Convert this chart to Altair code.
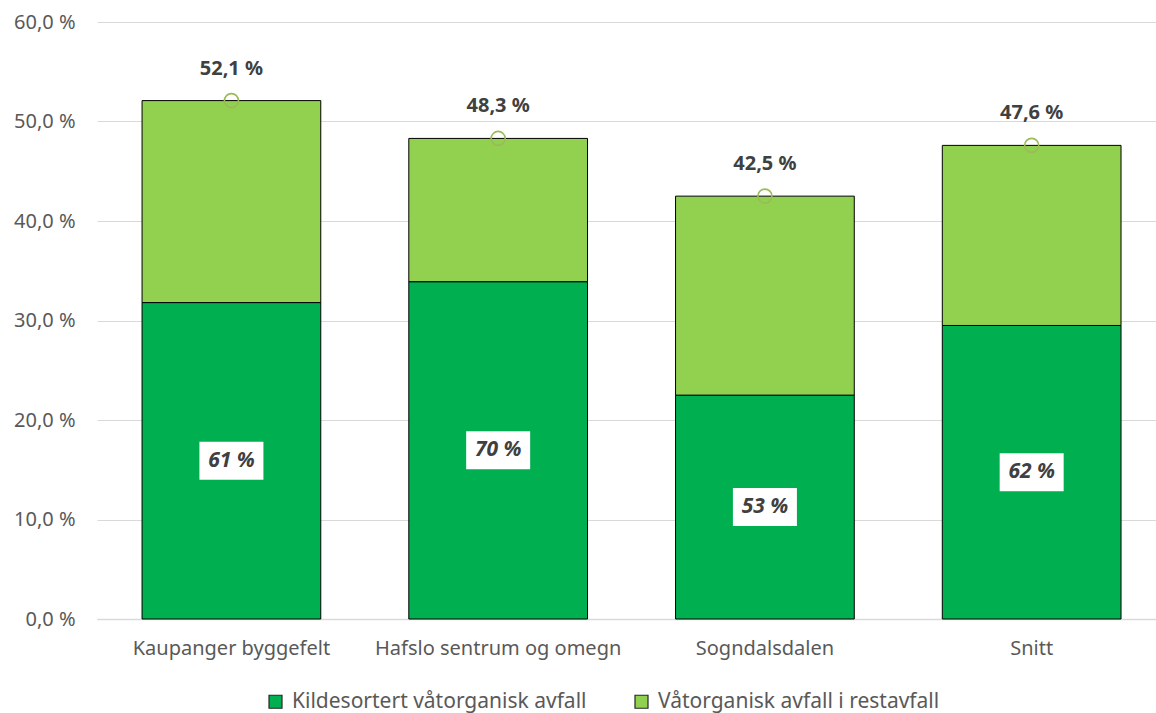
import altair as alt
import pandas as pd

categories = ["Kaupanger byggefelt", "Hafslo sentrum og omegn", "Sogndalsdalen", "Snitt"]
series_names = ["Kildesortert våtorganisk avfall", "Våtorganisk avfall i restavfall"]
kildesortert = [31.8, 33.9, 22.5, 29.5]
restavfall = [20.3, 14.4, 20.0, 18.1]
totals = [52.1, 48.3, 42.5, 47.6]
andel = [61, 70, 53, 62]
y_ticks = [0, 10, 20, 30, 40, 50, 60]

FONT = "Noto Sans"
DARK = "#00B050"
LIGHT = "#92D050"

rows = []
for i, c in enumerate(categories):
    rows.append({"cat": c, "series": series_names[0], "value": kildesortert[i], "ord": 0})
    rows.append({"cat": c, "series": series_names[1], "value": restavfall[i], "ord": 1})
long_df = pd.DataFrame(rows)

info_df = pd.DataFrame({
    "cat": categories,
    "kilde": kildesortert,
    "total": totals,
    "andel": andel,
})

xaxis = alt.Axis(
    title=None, labelAngle=0, labelFontSize=20, labelFont=FONT, labelColor="#595959",
    ticks=False, domainColor="#D9D9D9", domainWidth=1.5, labelPadding=19, labelLimit=0,
)
xscale = alt.Scale(paddingInner=0.33, paddingOuter=0.15, align=0.563)
xenc = alt.X("cat:N", sort=categories, scale=xscale, axis=xaxis)

yscale = alt.Scale(domain=[0, 60], nice=False)
yaxis = alt.Axis(
    title=None, values=y_ticks, grid=True, gridColor="#D9D9D9", gridWidth=1,
    domain=False, ticks=False, labelFontSize=20, labelFont=FONT, labelColor="#595959",
    labelPadding=22,
    labelExpr="replace(format(datum.value, '.1f'), '.', ',') + ' %'",
)

bars = alt.Chart(long_df).mark_bar(stroke="black", strokeWidth=1).encode(
    x=xenc,
    y=alt.Y("value:Q", stack="zero", scale=yscale, axis=yaxis),
    color=alt.Color(
        "series:N",
        scale=alt.Scale(domain=series_names, range=[DARK, LIGHT]),
        legend=alt.Legend(
            title=None, orient="none", legendX=168, legendY=669, direction="horizontal",
            symbolType="square", symbolSize=169, symbolStrokeColor="#262626", symbolStrokeWidth=1.2,
            labelFontSize=21, labelFont=FONT, labelColor="#595959", columnPadding=44,
            symbolOffset=0, padding=0, labelOffset=6, labelLimit=0,
        ),
    ),
    order=alt.Order("ord:Q", sort="ascending"),
)

base = alt.Chart(info_df).transform_calculate(
    mid="datum.kilde / 2",
    andel_label="datum.andel + ' %'",
    total_label="replace(format(datum.total, '.1f'), '.', ',') + ' %'",
)

boxes = base.mark_point(
    shape="M-1,-0.594L1,-0.594L1,0.594L-1,0.594Z", filled=True, fill="white",
    opacity=1, size=4096, strokeWidth=0,
).encode(x=xenc, y=alt.Y("mid:Q", scale=yscale, axis=yaxis))

inner_text = base.mark_text(
    fontSize=21, fontWeight="bold", fontStyle="italic", font=FONT, color="#404040",
    baseline="middle", align="center",
).encode(x=xenc, y=alt.Y("mid:Q", scale=yscale, axis=yaxis), text="andel_label:N")

circles = base.mark_point(
    shape="circle", filled=False, size=196, stroke="#9BBB59", strokeWidth=1.6, opacity=1,
).encode(x=xenc, y=alt.Y("total:Q", scale=yscale, axis=yaxis))

total_text = base.mark_text(
    fontSize=20, fontWeight="bold", font=FONT, color="#404040",
    baseline="middle", align="center", dy=-32,
).encode(x=xenc, y=alt.Y("total:Q", scale=yscale, axis=yaxis), text="total_label:N")

chart = alt.layer(bars, boxes, inner_text, circles, total_text).properties(
    width=1059, height=597,
    background="white",
    autosize=alt.AutoSizeParams(type="none"),
    padding={"left": 97, "top": 22, "right": 0, "bottom": 94},
).configure_view(stroke="transparent", strokeWidth=0)

chart.save("out.html", embed_options={"renderer": "svg", "actions": False})
